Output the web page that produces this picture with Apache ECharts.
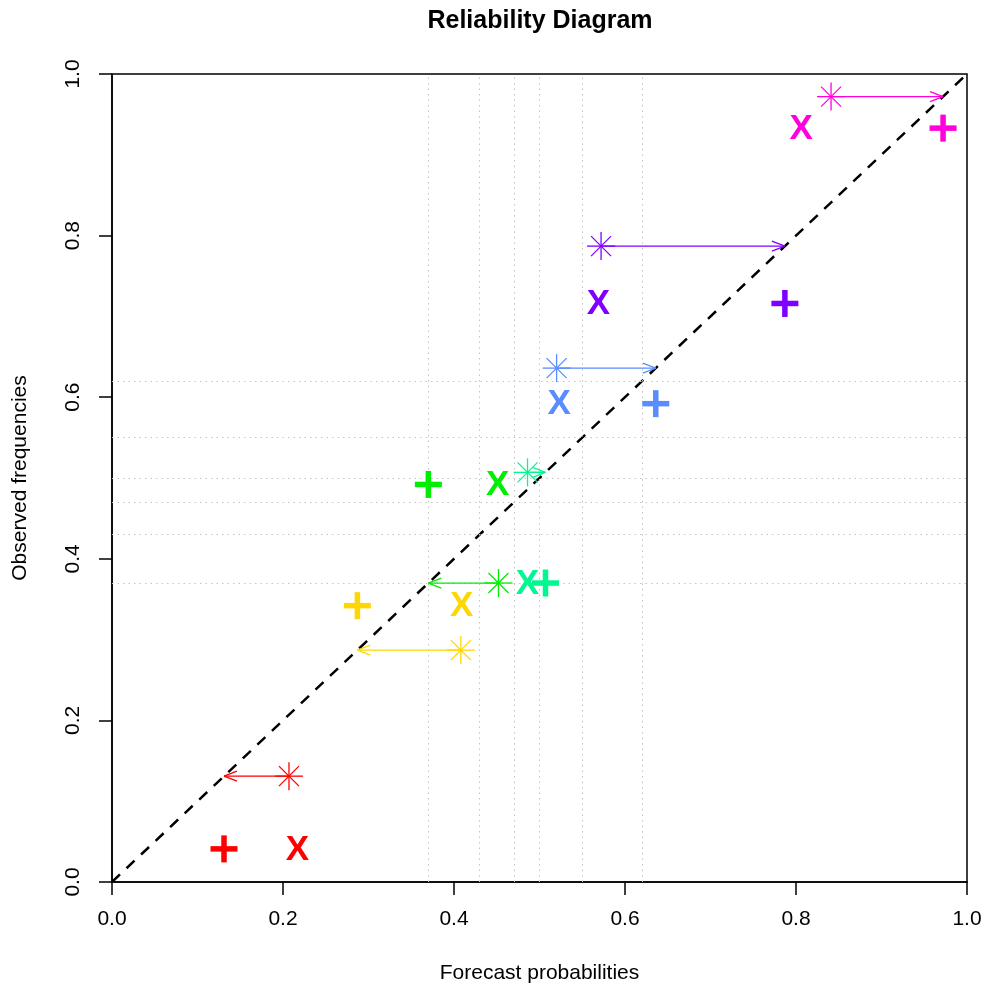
<!DOCTYPE html>
<html>
<head>
<meta charset="utf-8">
<script src="https://cdn.jsdelivr.net/npm/echarts@6/dist/echarts.min.js"></script>
<style>
  html, body { margin: 0; padding: 0; background: #fff; }
  #chart { width: 986px; height: 989px; }
</style>
</head>
<body>
<div id="chart"></div>
<script>
// one entry per forecast class
var classColors = ['#FF0000', '#FFD700', '#00EE00', '#00F890', '#5A8CFF', '#7F00FF', '#FF00DD'];
var forecastMean = [0.207, 0.408, 0.452, 0.486, 0.520, 0.572, 0.841];  // asterisk x
var observedFreq = [0.131, 0.287, 0.370, 0.507, 0.636, 0.787, 0.972];  // asterisk y, arrow end, plus x
var crossX = [0.217, 0.409, 0.451, 0.486, 0.523, 0.569, 0.806];        // "X" x
var pointY = [0.041, 0.342, 0.492, 0.370, 0.592, 0.716, 0.933];        // "X" and plus y
var refLines = [0.371, 0.434, 0.468, 0.502, 0.545, 0.617];              // dotted h/v lines
var axisTicks = [0, 0.2, 0.4, 0.6, 0.8, 1.0];

var FONT = '"Liberation Sans", Arial, Helvetica, sans-serif';

function seg(x1, y1, x2, y2, color, w) {
  return {
    type: 'line',
    shape: { x1: x1, y1: y1, x2: x2, y2: y2 },
    style: { stroke: color, lineWidth: w, lineCap: 'butt' }
  };
}

function classSeries(i) {
  var c = classColors[i];
  return {
    type: 'custom',
    silent: true,
    animation: false,
    z: 5,
    data: [[forecastMean[i], observedFreq[i], crossX[i], pointY[i]]],
    renderItem: function (params, api) {
      var star = api.coord([api.value(0), api.value(1)]);
      var tip = api.coord([api.value(1), api.value(1)]);
      var cross = api.coord([api.value(2), api.value(3)]);
      var plus = api.coord([api.value(1), api.value(3)]);
      var dir = tip[0] > star[0] ? 1 : -1;
      var kids = [];
      // arrow from asterisk to the diagonal
      kids.push(seg(star[0], star[1], tip[0], tip[1], c, 1.3));
      kids.push(seg(tip[0], tip[1], tip[0] - dir * 13, tip[1] - 5, c, 1.3));
      kids.push(seg(tip[0], tip[1], tip[0] - dir * 13, tip[1] + 5, c, 1.3));
      // asterisk (pch 8)
      kids.push(seg(star[0] - 14, star[1], star[0] + 14, star[1], c, 1.3));
      kids.push(seg(star[0], star[1] - 14, star[0], star[1] + 14, c, 1.3));
      kids.push(seg(star[0] - 10, star[1] - 10, star[0] + 10, star[1] + 10, c, 1.3));
      kids.push(seg(star[0] - 10, star[1] + 10, star[0] + 10, star[1] - 10, c, 1.3));
      // bold plus
      kids.push(seg(plus[0] - 13.5, plus[1], plus[0] + 13.5, plus[1], c, 5.5));
      kids.push(seg(plus[0], plus[1] - 13.5, plus[0], plus[1] + 13.5, c, 5.5));
      // letter X
      kids.push({
        type: 'text',
        x: cross[0],
        y: cross[1] + 1,
        style: {
          text: 'X',
          fill: c,
          font: 'bold 35px ' + FONT,
          align: 'center',
          verticalAlign: 'middle'
        }
      });
      return { type: 'group', children: kids };
    }
  };
}

var chart = echarts.init(document.getElementById('chart'), null, { renderer: 'canvas' });

var series = [];
// dotted reference lines
series.push({
  type: 'line',
  data: [],
  silent: true,
  animation: false,
  z: 1,
  markLine: {
    silent: true,
    animation: false,
    symbol: ['none', 'none'],
    label: { show: false },
    lineStyle: { color: '#c4c4c4', width: 1, type: [1.5, 4] },
    emphasis: { disabled: true },
    data: refLines.map(function (v) { return { xAxis: v }; })
      .concat(refLines.map(function (v) { return { yAxis: v }; }))
  }
});
// perfect reliability diagonal
series.push({
  type: 'line',
  data: [[0, 0], [1, 1]],
  symbol: 'none',
  silent: true,
  animation: false,
  z: 3,
  lineStyle: { color: '#000', width: 2.5, type: [11, 9] }
});
for (var i = 0; i < classColors.length; i++) series.push(classSeries(i));

var option = {
  backgroundColor: '#ffffff',
  animation: false,
  graphic: [{
    type: 'text',
    x: 540,
    y: 21,
    style: {
      text: 'Reliability Diagram',
      font: 'bold 25px ' + FONT,
      fill: '#000',
      align: 'center',
      verticalAlign: 'middle'
    }
  }],
  grid: {
    left: 112, right: 19, top: 74, bottom: 106,
    show: true, borderColor: '#000', borderWidth: 1.5, backgroundColor: 'transparent'
  },
  xAxis: {
    type: 'value',
    min: 0, max: 1, interval: 0.2,
    name: 'Forecast probabilities',
    nameLocation: 'middle',
    nameGap: 81,
    nameTextStyle: { fontFamily: FONT, fontSize: 21, color: '#000' },
    axisLine: { show: true, onZero: false, lineStyle: { color: '#000', width: 1.5 } },
    axisTick: { show: true, inside: false, length: 13, lineStyle: { color: '#000', width: 1.5 } },
    axisLabel: {
      margin: 27, fontFamily: FONT, fontSize: 21, color: '#000',
      formatter: function (v) { return v.toFixed(1); }
    },
    splitLine: { show: false }
  },
  yAxis: {
    type: 'value',
    min: 0, max: 1, interval: 0.2,
    name: 'Observed frequencies',
    nameLocation: 'middle',
    nameGap: 81,
    nameTextStyle: { fontFamily: FONT, fontSize: 21, color: '#000' },
    axisLine: { show: true, onZero: false, lineStyle: { color: '#000', width: 1.5 } },
    axisTick: { show: true, inside: false, length: 13, lineStyle: { color: '#000', width: 1.5 } },
    axisLabel: {
      margin: 28, rotate: 90, fontFamily: FONT, fontSize: 21, color: '#000',
      formatter: function (v) { return v.toFixed(1); }
    },
    splitLine: { show: false }
  },
  series: series
};

chart.setOption(option);
</script>
</body>
</html>
